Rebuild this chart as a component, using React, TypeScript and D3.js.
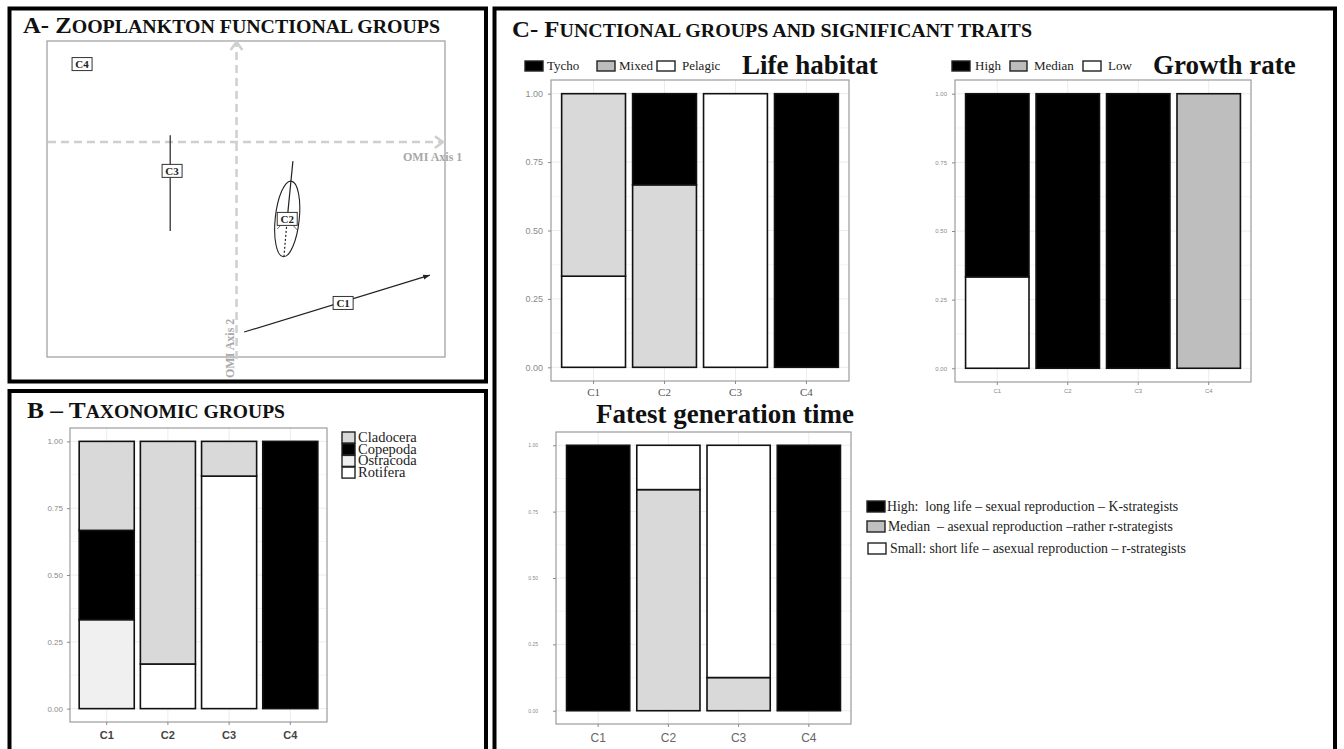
import { useEffect, useRef } from "react";
import * as d3 from "d3";

const SERIF = "'Liberation Serif', 'Times New Roman', serif";
const SANS = "'Liberation Sans', Arial, sans-serif";

// ---- data ----
const clusters = ["C1", "C2", "C3", "C4"];

// A: OMI positions of the functional groups (axis 1, axis 2 units)
const omiX = [2.25, 1.07, -1.36, -3.26];
const omiY = [-5.09, -2.43, -0.91, 2.47];
const c1Segment = [[0.16, -6.01], [4.08, -4.21]];
const c3Segment = [[-1.4, 0.22], [-1.4, -2.81]];
const c2Stem = [[1.19, -0.6], [1.07, -2.43]];
const c2Tail = [[1.07, -2.43], [1.0, -3.64]];

// B: taxonomic groups
const cladocera = [0.333, 0.833, 0.13, 0];
const copepoda = [0.334, 0, 0, 1];
const ostracoda = [0.333, 0, 0, 0];
const rotifera = [0, 0.167, 0.87, 0];

// C: life habitat
const tycho = [0, 0.333, 0, 1];
const mixed = [0.667, 0.667, 0, 0];
const pelagic = [0.333, 0, 1, 0];

// C: growth rate
const growthHigh = [0.667, 1, 1, 0];
const growthMedian = [0, 0, 0, 1];
const growthLow = [0.333, 0, 0, 0];

// C: fastest generation time
const genHigh = [1, 0, 0, 1];
const genMedian = [0, 0.833, 0.125, 0];
const genSmall = [0, 0.167, 0.875, 0];

const yTicks = [0, 0.25, 0.5, 0.75, 1];

type Series = { name: string; fill: string; values: number[] };
type Box = { x0: number; x1: number; y0: number; y1: number };
type AxisStyle = { ySize: number; yPad: number; xSize: number; xPad: number; xFont: string; xWeight: string; xColor: string };

function stackedBars(svg: any, box: Box, series: Series[], st: AxisStyle) {
  const { x0, x1, y0, y1 } = box;
  const x = d3.scaleBand<string>().domain(clusters).range([x0, x1]).paddingInner(0.1).paddingOuter(0.15);
  const y = d3.scaleLinear().domain([-0.05, 1.05]).range([y1, y0]);
  const g = svg.append("g");

  // grid (theme_bw look)
  d3.range(0, 1.001, 0.125).forEach((t, i) => {
    g.append("line").attr("x1", x0).attr("x2", x1).attr("y1", y(t)).attr("y2", y(t))
      .attr("stroke", i % 2 ? "#f5f5f5" : "#ececec").attr("stroke-width", 1);
  });
  clusters.forEach((c) => {
    const cx = (x(c) ?? 0) + x.bandwidth() / 2;
    g.append("line").attr("x1", cx).attr("x2", cx).attr("y1", y0).attr("y2", y1).attr("stroke", "#ececec");
  });

  const rows = clusters.map((c, i) => {
    const r: any = { cluster: c };
    series.forEach((s) => (r[s.name] = s.values[i]));
    return r;
  });
  const stacked = d3.stack<any>().keys(series.map((s) => s.name))(rows);
  stacked.forEach((layer, li) => {
    g.append("g").selectAll("rect").data(layer.filter((d) => d[1] - d[0] > 0.0001)).join("rect")
      .attr("x", (d: any) => x(d.data.cluster) ?? 0).attr("width", x.bandwidth())
      .attr("y", (d: any) => y(d[1])).attr("height", (d: any) => y(d[0]) - y(d[1]))
      .attr("fill", series[li].fill).attr("stroke", "#111").attr("stroke-width", 1.6);
  });

  g.append("rect").attr("x", x0).attr("y", y0).attr("width", x1 - x0).attr("height", y1 - y0)
    .attr("fill", "none").attr("stroke", "#9c9c9c").attr("stroke-width", 1.2);

  const ya = svg.append("g").attr("transform", `translate(${x0},0)`)
    .call(d3.axisLeft(y).tickValues(yTicks).tickFormat(d3.format(".2f")).tickSize(3).tickPadding(st.yPad));
  ya.select(".domain").remove();
  ya.selectAll("line").attr("stroke", "#8a8a8a");
  ya.selectAll("text").attr("fill", "#8a8a8a").attr("font-size", st.ySize).attr("font-family", SANS);

  const xa = svg.append("g").attr("transform", `translate(0,${y1})`)
    .call(d3.axisBottom(x).tickSize(3).tickPadding(st.xPad));
  xa.select(".domain").remove();
  xa.selectAll("line").attr("stroke", "#8a8a8a");
  xa.selectAll("text").attr("fill", st.xColor).attr("font-size", st.xSize)
    .attr("font-family", st.xFont).attr("font-weight", st.xWeight);
}

function smallCaps(svg: any, x: number, y: number, big: string, small: string, bigSize: number, smallSize: number, width: number) {
  const t = svg.append("text").attr("x", x).attr("y", y).attr("font-family", SERIF).attr("font-weight", "bold")
    .attr("fill", "#111").attr("textLength", width).attr("lengthAdjust", "spacingAndGlyphs");
  t.append("tspan").attr("font-size", bigSize).text(big);
  t.append("tspan").attr("font-size", smallSize).text(small);
}

function legendKey(svg: any, x: number, y: number, w: number, h: number, fill: string, label: string, tx: number, size: number) {
  svg.append("rect").attr("x", x).attr("y", y).attr("width", w).attr("height", h)
    .attr("fill", fill).attr("stroke", "#222").attr("stroke-width", 1.4);
  svg.append("text").attr("x", tx).attr("y", y + h - 1).attr("font-family", SERIF).attr("font-size", size)
    .attr("fill", "#222").style("white-space", "pre").text(label);
}

export default function App() {
  const ref = useRef<SVGSVGElement>(null);

  useEffect(() => {
    const el = ref.current;
    if (!el) return;
    const W = 1344, H = 749;
    const svg = d3.select(el).attr("viewBox", `0 0 ${W} ${H}`).attr("width", W).attr("height", H);
    svg.selectAll("*").remove();
    svg.append("rect").attr("width", W).attr("height", H).attr("fill", "#fff");

    // panel frames
    const frame = (x: number, y: number, w: number, h: number) =>
      svg.append("rect").attr("x", x).attr("y", y).attr("width", w).attr("height", h)
        .attr("fill", "none").attr("stroke", "#000").attr("stroke-width", 4);
    frame(9.5, 8.5, 476.5, 373);
    frame(9.5, 391, 476.5, 380);
    frame(494.5, 8.5, 840.5, 762);

    // ---------- A: OMI ----------
    smallCaps(svg, 23, 33, "A- Z", "OOPLANKTON FUNCTIONAL GROUPS", 23, 18.5, 417);
    const pA = { x0: 47, x1: 445, y0: 41, y1: 357 };
    const xA = d3.scaleLinear().domain([-4, 4.4]).range([pA.x0, pA.x1]);
    const yA = d3.scaleLinear().domain([-6.8, 3.2]).range([pA.y1, pA.y0]);
    svg.append("rect").attr("x", pA.x0).attr("y", pA.y0).attr("width", pA.x1 - pA.x0).attr("height", pA.y1 - pA.y0)
      .attr("fill", "none").attr("stroke", "#9c9c9c").attr("stroke-width", 1.2);
    const axisGray = "#cfcfcf";
    svg.append("line").attr("x1", pA.x0 + 1).attr("x2", pA.x1 - 3).attr("y1", yA(0)).attr("y2", yA(0))
      .attr("stroke", axisGray).attr("stroke-width", 2.5).attr("stroke-dasharray", "8 5");
    svg.append("line").attr("x1", xA(0)).attr("x2", xA(0)).attr("y1", pA.y1 + 2).attr("y2", pA.y0 + 2)
      .attr("stroke", axisGray).attr("stroke-width", 2.5).attr("stroke-dasharray", "8 5");
    const chevron = (tx: number, ty: number, dx: number, dy: number) => {
      const L = 10, a = Math.PI / 5, ang = Math.atan2(dy, dx);
      const p = [ang + Math.PI - a, ang + Math.PI + a].map((t) => [tx + L * Math.cos(t), ty + L * Math.sin(t)]);
      svg.append("path").attr("d", `M${p[0][0]},${p[0][1]}L${tx},${ty}L${p[1][0]},${p[1][1]}`)
        .attr("fill", "none").attr("stroke", axisGray).attr("stroke-width", 2.5);
    };
    chevron(pA.x1 - 2, yA(0), 1, 0);
    chevron(xA(0), pA.y0 + 1, 0, -1);
    svg.append("text").attr("x", 403).attr("y", 161).attr("font-family", SERIF).attr("font-weight", "bold")
      .attr("font-size", 12).attr("fill", "#a8a8a8").text("OMI Axis 1");
    svg.append("text").attr("transform", `translate(${xA(0) - 3},378) rotate(-90)`).attr("font-family", SERIF)
      .attr("font-weight", "bold").attr("font-size", 12).attr("fill", "#a8a8a8").text("OMI Axis 2");

    const seg = (pts: number[][], dash?: string) =>
      svg.append("line").attr("x1", xA(pts[0][0])).attr("y1", yA(pts[0][1])).attr("x2", xA(pts[1][0])).attr("y2", yA(pts[1][1]))
        .attr("stroke", "#222").attr("stroke-width", 1.2).attr("stroke-dasharray", dash ?? null);
    seg(c1Segment);
    seg(c3Segment);
    seg(c2Stem);
    seg(c2Tail, "2 2");
    // C1 arrow tip
    {
      const [a, b] = c1Segment;
      const tx = xA(b[0]), ty = yA(b[1]);
      const ang = Math.atan2(ty - yA(a[1]), tx - xA(a[0]));
      const p = [ang + Math.PI - 0.35, ang + Math.PI + 0.35].map((t) => [tx + 7 * Math.cos(t), ty + 7 * Math.sin(t)]);
      svg.append("path").attr("d", `M${tx},${ty}L${p[0][0]},${p[0][1]}L${p[1][0]},${p[1][1]}Z`).attr("fill", "#222");
    }
    // C2 ellipse
    const c2x = xA(omiX[1]), c2y = yA(omiY[1]);
    svg.append("ellipse").attr("cx", c2x).attr("cy", c2y).attr("rx", 12).attr("ry", 38)
      .attr("transform", `rotate(6,${c2x},${c2y})`).attr("fill", "none").attr("stroke", "#222").attr("stroke-width", 1.1);
    [[-10, 10], [10, 11]].forEach(([dx, dy]) =>
      svg.append("line").attr("x1", c2x).attr("y1", c2y).attr("x2", c2x + dx).attr("y2", c2y + dy).attr("stroke", "#444").attr("stroke-width", 0.8));

    clusters.forEach((c, i) => {
      const cx = xA(omiX[i]), cy = yA(omiY[i]);
      svg.append("rect").attr("x", cx - 10).attr("y", cy - 6.5).attr("width", 20).attr("height", 13)
        .attr("fill", "#fff").attr("stroke", "#333").attr("stroke-width", 1);
      svg.append("text").attr("x", cx).attr("y", cy + 4).attr("text-anchor", "middle").attr("font-family", SERIF)
        .attr("font-weight", "bold").attr("font-size", 11).attr("fill", "#222").text(c);
    });

    // ---------- B: taxonomic groups ----------
    smallCaps(svg, 27, 418, "B – T", "AXONOMIC GROUPS", 24, 18.5, 258);
    stackedBars(svg, { x0: 70, x1: 327, y0: 428, y1: 722 }, [
      { name: "Rotifera", fill: "#ffffff", values: rotifera },
      { name: "Ostracoda", fill: "#f0f0f0", values: ostracoda },
      { name: "Copepoda", fill: "#000000", values: copepoda },
      { name: "Cladocera", fill: "#d9d9d9", values: cladocera },
    ], { ySize: 8, yPad: 4, xSize: 11, xPad: 6, xFont: SANS, xWeight: "bold", xColor: "#444" });
    [["Cladocera", "#d9d9d9"], ["Copepoda", "#000"], ["Ostracoda", "#f0f0f0"], ["Rotifera", "#fff"]].forEach(([n, f], i) =>
      legendKey(svg, 342, 432 + i * 11.7, 13, 11, f, n, 358, 14.5));

    // ---------- C ----------
    smallCaps(svg, 512, 37, "C- F", "UNCTIONAL GROUPS AND SIGNIFICANT TRAITS", 23, 18.5, 520);

    // life habitat
    legendKey(svg, 525, 61, 18, 10, "#000", "Tycho", 547, 13);
    legendKey(svg, 597, 61, 18, 10, "#bdbdbd", "Mixed", 619, 13);
    legendKey(svg, 657, 61, 18, 10, "#fff", "Pelagic", 682, 13);
    svg.append("text").attr("x", 742).attr("y", 74).attr("font-family", SERIF).attr("font-weight", "bold")
      .attr("font-size", 27).attr("fill", "#111").text("Life habitat");
    stackedBars(svg, { x0: 551, x1: 849, y0: 80, y1: 381 }, [
      { name: "Pelagic", fill: "#ffffff", values: pelagic },
      { name: "Mixed", fill: "#d9d9d9", values: mixed },
      { name: "Tycho", fill: "#000000", values: tycho },
    ], { ySize: 9, yPad: 5, xSize: 11, xPad: 4, xFont: SERIF, xWeight: "normal", xColor: "#555" });

    // growth rate
    legendKey(svg, 952, 61, 18, 10, "#000", "High", 975, 13);
    legendKey(svg, 1010, 61, 17, 10, "#bdbdbd", "Median", 1034, 13);
    legendKey(svg, 1083, 61, 18, 10, "#fff", "Low", 1108, 13);
    svg.append("text").attr("x", 1153).attr("y", 74).attr("font-family", SERIF).attr("font-weight", "bold")
      .attr("font-size", 27).attr("fill", "#111").text("Growth rate");
    stackedBars(svg, { x0: 955, x1: 1251, y0: 80, y1: 382 }, [
      { name: "Low", fill: "#ffffff", values: growthLow },
      { name: "Median", fill: "#bebebe", values: growthMedian },
      { name: "High", fill: "#000000", values: growthHigh },
    ], { ySize: 6, yPad: 5, xSize: 6, xPad: 4, xFont: SANS, xWeight: "normal", xColor: "#888" });

    // fastest generation time
    svg.append("text").attr("x", 725).attr("y", 423).attr("text-anchor", "middle").attr("font-family", SERIF)
      .attr("font-weight", "bold").attr("font-size", 27).attr("fill", "#111").text("Fatest generation time");
    stackedBars(svg, { x0: 556, x1: 851, y0: 432, y1: 724 }, [
      { name: "High", fill: "#000000", values: genHigh },
      { name: "Median", fill: "#d9d9d9", values: genMedian },
      { name: "Small", fill: "#ffffff", values: genSmall },
    ], { ySize: 5, yPad: 15, xSize: 12, xPad: 6, xFont: SANS, xWeight: "normal", xColor: "#666" });
    legendKey(svg, 867, 501, 18, 11, "#000", "High:  long life – sexual reproduction – K-strategists", 887, 13.8);
    legendKey(svg, 867, 521, 18, 11, "#c0c0c0", "Median  – asexual reproduction –rather r-strategists", 888, 13.8);
    legendKey(svg, 868, 543, 18, 11, "#fff", "Small: short life – asexual reproduction – r-strategists", 890, 13.8);
  }, []);

  return (
    <div style={{ position: "absolute", left: 0, top: 0 }}>
      <svg ref={ref} role="img" aria-label="Zooplankton functional groups and traits" style={{ display: "block" }} />
    </div>
  );
}
